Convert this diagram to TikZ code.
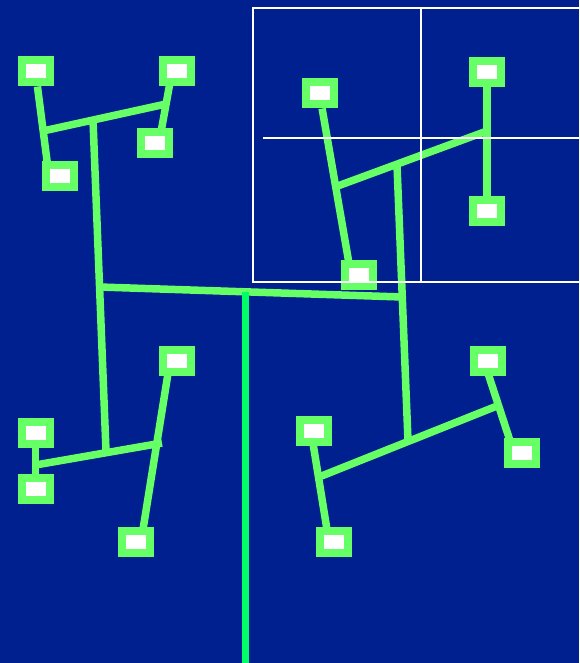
\documentclass[tikz,border=0pt]{standalone}
\usepackage{tikz}
\usetikzlibrary{calc,backgrounds}
\definecolor{navy}{HTML}{00208F}
\definecolor{leafgreen}{HTML}{66FF66}
\definecolor{trunkgreen}{HTML}{00FF66}
\tikzset{
  leaf/.style={draw=leafgreen,fill=white,line width=4pt,inner sep=0pt,
    minimum width=14pt,minimum height=11pt},
  wire/.style={draw=leafgreen,line width=3.75pt},
  trunk/.style={draw=trunkgreen,line width=3.75pt},
  grid/.style={draw=white,line width=1pt}
}
\begin{document}
\begin{tikzpicture}[x=0.5pt,y=-0.5pt]
  \useasboundingbox (0,0) rectangle (579,663);
  % leaves, top left
  \node[leaf] (a1) at (35.5,71.5) {};
  \node[leaf] (a2) at (176.5,71.5) {};
  \node[leaf] (a3) at (155,143) {};
  \node[leaf] (a4) at (60,176) {};
  % leaves, top right
  \node[leaf] (b1) at (319.5,93.5) {};
  \node[leaf] (b2) at (487,72) {};
  \node[leaf] (b3) at (487,211) {};
  \node[leaf] (b4) at (359,275) {};
  % leaves, bottom left
  \node[leaf] (c1) at (176.5,361) {};
  \node[leaf] (c2) at (35.5,433) {};
  \node[leaf] (c3) at (35.5,489) {};
  \node[leaf] (c4) at (135.5,542) {};
  % leaves, bottom right
  \node[leaf] (d1) at (488,361) {};
  \node[leaf] (d2) at (313.5,431) {};
  \node[leaf] (d3) at (522,453) {};
  \node[leaf] (d4) at (333.5,542) {};
  % junctions
  \coordinate (ja1) at (43,131);
  \coordinate (ja2) at (166,104);
  \coordinate (ja) at (93,120);
  \coordinate (jb1) at (335,187);
  \coordinate (jb2) at (487,131);
  \coordinate (jb) at (397,165);
  \coordinate (jc1) at (35.5,465);
  \coordinate (jc2) at (162,443);
  \coordinate (jc) at (106,451);
  \coordinate (jd1) at (319,477);
  \coordinate (jd2) at (497,406);
  \coordinate (jd) at (408,441);
  \coordinate (hl) at (99.5,287);
  \coordinate (hr) at (402,297);
  \coordinate (root) at (245.5,292);
  \coordinate (base) at (245.5,663);
  \begin{pgfonlayer}{background}
    \fill[navy] (0,0) rectangle (579,663);
    \draw[wire] (a1) -- ($(a4)+(-11,0)$);
    \draw[wire] ($(a2)+(-4.5,0)$) -- ($(a3)+(4,0)$);
    \draw[wire] (ja1) -- (ja2);
    \draw[wire] (ja) -- (jc);
    \draw[wire] (b1) -- ($(b4)+(-8,0)$);
    \draw[wire] (b2) -- (b3);
    \draw[wire] (jb1) -- (jb2);
    \draw[wire] (jb) -- (jd);
    \draw[wire] (c2) -- (c3);
    \draw[wire] ($(c1)+(-6.5,0)$) -- ($(c4)+(5.5,0)$);
    \draw[wire] (jc1) -- (jc2);
    \draw[wire] ($(d1)+(-4,0)$) -- ($(d3)+(-8,0)$);
    \draw[wire] ($(d2)+(-2.5,0)$) -- ($(d4)+(-4.5,0)$);
    \draw[wire] (jd1) -- (jd2);
    \draw[wire] (hl) -- (hr);
    \draw[trunk] (root) -- (base);
  \end{pgfonlayer}
  % frame
  \draw[grid] (580,8) -| (253,282) -- (580,282);
  \draw[grid] (421,8) -- (421,282);
  \draw[grid] (263,138) -- (580,138);
\end{tikzpicture}
\end{document}
